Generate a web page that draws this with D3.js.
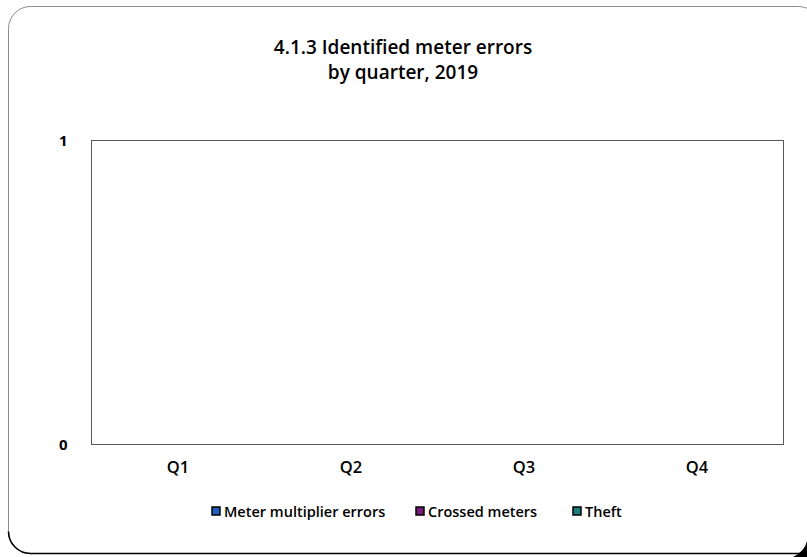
<!DOCTYPE html>
<html>
<head>
<meta charset="utf-8">
<script src="https://cdn.jsdelivr.net/npm/d3@7"></script>
<style>
  html, body { margin: 0; padding: 0; background: #fff; }
  svg { display: block; }
  text { font-family: "Open Sans", "Noto Sans", sans-serif; fill: #000; }
</style>
</head>
<body>
<svg id="chart" width="807" height="557"></svg>
<script>
// Quarterly counts of identified meter errors, 2019
const quarters = ["Q1", "Q2", "Q3", "Q4"];
const meterMultiplierErrors = [0, 0, 0, 0];
const crossedMeters = [0, 0, 0, 0];
const theft = [0, 0, 0, 0];
const yTicks = [0, 1];
const titleLines = ["4.1.3 Identified meter errors", "by quarter, 2019"];

const seriesList = [
  { name: "Meter multiplier errors", values: meterMultiplierErrors, color: "#1f5fbf" },
  { name: "Crossed meters", values: crossedMeters, color: "#7a1a7a" },
  { name: "Theft", values: theft, color: "#1a7f7a" }
];

const FONT = "'Open Sans', 'Noto Sans', sans-serif";
const svg = d3.select("#chart");
const W = 807, H = 557;

// Outer rounded frame with a dark shadow along the bottom edge
const fx = 8.5, fy = 6.5, fw = 812, fh = 547, r = 22;
svg.append("rect")
  .attr("x", fx).attr("y", fy).attr("width", fw).attr("height", fh)
  .attr("rx", r).attr("ry", r)
  .attr("fill", "#fff").attr("stroke", "#8c8c8c").attr("stroke-width", 1);
svg.append("path")
  .attr("d", `M${fx},${fy + fh - r} A${r},${r} 0 0 0 ${fx + r},${fy + fh} L${W},${fy + fh}`)
  .attr("fill", "none").attr("stroke", "#000").attr("stroke-width", 1.6);
svg.append("path")
  .attr("d", `M${W - 14},${H} Q${W - 2},${H - 6} ${W},${H - 16} L${W},${H} Z`)
  .attr("fill", "#000");

// Title
svg.append("text")
  .attr("text-anchor", "middle")
  .attr("font-size", 19).attr("font-weight", 600)
  .selectAll("tspan").data(titleLines).join("tspan")
  .attr("x", 403)
  .attr("y", (d, i) => 54 + i * 25)
  .text(d => d);

// Plot area
const m = { left: 91.5, top: 140.5, right: 783.5, bottom: 444.5 };
const x = d3.scaleBand().domain(quarters).range([m.left, m.right]).paddingInner(0.3).paddingOuter(0.15);
const y = d3.scaleLinear().domain([0, 1]).range([m.bottom, m.top]);

svg.append("rect")
  .attr("x", m.left).attr("y", m.top)
  .attr("width", m.right - m.left).attr("height", m.bottom - m.top)
  .attr("fill", "none").attr("stroke", "#595959").attr("stroke-width", 1);

// Bars (grouped by quarter)
const inner = d3.scaleBand().domain(seriesList.map(s => s.name)).range([0, x.bandwidth()]);
seriesList.forEach(s => {
  svg.append("g").selectAll("rect").data(quarters).join("rect")
    .attr("x", q => x(q) + inner(s.name))
    .attr("y", (q, i) => y(s.values[i]))
    .attr("width", inner.bandwidth())
    .attr("height", (q, i) => y(0) - y(s.values[i]))
    .attr("fill", s.color);
});

// Y axis labels
const yAxis = d3.axisLeft(y).tickValues(yTicks).tickFormat(d3.format("d")).tickSize(0).tickPadding(24);
const gy = svg.append("g").attr("transform", `translate(${m.left},0)`).call(yAxis);
gy.select(".domain").remove();
gy.selectAll("text").attr("font-size", 15).attr("font-weight", "bold")
  .style("font-family", FONT);

// X axis labels
const xBand = d3.scaleBand().domain(quarters).range([m.left, m.right]);
const xAxis = d3.axisBottom(xBand).tickSize(0).tickPadding(17);
const gx = svg.append("g").attr("transform", `translate(0,${m.bottom})`).call(xAxis);
gx.select(".domain").remove();
gx.selectAll("text").attr("font-size", 16.5).attr("font-weight", 600)
  .style("font-family", FONT);

// Legend
const legendItems = [
  { s: seriesList[0], x: 212 },
  { s: seriesList[1], x: 416 },
  { s: seriesList[2], x: 573 }
];
const lg = svg.append("g");
legendItems.forEach(it => {
  lg.append("rect")
    .attr("x", it.x).attr("y", 507).attr("width", 8).attr("height", 8)
    .attr("fill", it.s.color).attr("stroke", "#000").attr("stroke-width", 1.5);
  lg.append("text")
    .attr("x", it.x + 12).attr("y", 516.5)
    .attr("font-size", 14.5).attr("font-weight", 600)
    .text(it.s.name);
});
</script>
</body>
</html>
